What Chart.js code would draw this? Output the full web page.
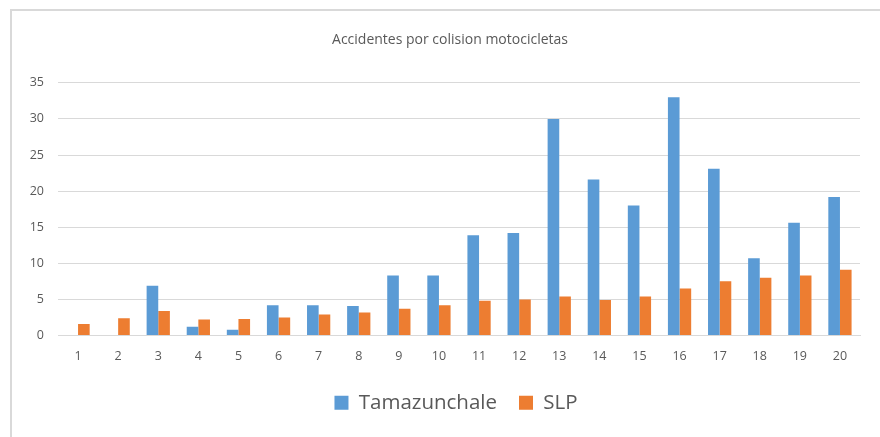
<!DOCTYPE html>
<html>
<head>
<meta charset="utf-8">
<script src="https://cdn.jsdelivr.net/npm/chart.js@4/dist/chart.umd.min.js"></script>
<style>
  html, body { margin: 0; padding: 0; background: #fff; }
  #wrap { position: relative; width: 880px; height: 437px; }
  #frame { position: absolute; left: 10px; top: 9px; width: 880px; height: 440px;
           border-left: 2px solid #d9d9d9; border-top: 2px solid #d9d9d9; box-sizing: border-box; }
  canvas { position: absolute; left: 0; top: 0; }
</style>
</head>
<body>
<div id="wrap">
  <div id="frame"></div>
  <canvas id="chart" width="880" height="437"></canvas>
</div>
<script>
const categories = ['1','2','3','4','5','6','7','8','9','10','11','12','13','14','15','16','17','18','19','20'];
const tamazunchale = [0, 0, 6.9, 1.2, 0.8, 4.2, 4.2, 4.1, 8.3, 8.3, 13.9, 14.2, 30.0, 21.6, 18.0, 33.0, 23.1, 10.7, 15.6, 19.2];
const slp = [1.6, 2.4, 3.4, 2.2, 2.3, 2.5, 2.9, 3.2, 3.7, 4.2, 4.8, 5.0, 5.4, 4.9, 5.4, 6.5, 7.5, 8.0, 8.3, 9.1];
const yTicks = [0, 5, 10, 15, 20, 25, 30, 35];

const textColor = '#595959';
const gridColor = '#d9d9d9';
const font = 'Open Sans';

// the original centres title and legend on the frame, not the canvas
const nudge = {
  id: 'nudge',
  afterLayout(chart) {
    chart.legend.left += 26; chart.legend.right += 26;
    chart.titleBlock.left += 20; chart.titleBlock.right += 20;
  }
};

new Chart(document.getElementById('chart'), {
  type: 'bar',
  data: {
    labels: categories,
    datasets: [
      { label: 'Tamazunchale', data: tamazunchale, backgroundColor: '#5b9bd5',
        categoryPercentage: 0.58, barPercentage: 1 },
      { label: 'SLP', data: slp, backgroundColor: '#ed7d31',
        categoryPercentage: 0.58, barPercentage: 1 }
    ]
  },
  plugins: [nudge],
  options: {
    responsive: false,
    animation: false,
    layout: { padding: { left: 0, right: 20, top: 0, bottom: 14 } },
    plugins: {
      title: {
        display: true,
        text: 'Accidentes por colision motocicletas',
        color: textColor,
        font: { family: font, size: 14, weight: 'normal' },
        padding: { top: 32, bottom: 34 }
      },
      legend: {
        position: 'bottom',
        labels: {
          color: textColor,
          font: { family: font, size: 20.5 },
          boxWidth: 14, boxHeight: 14,
          padding: 22
        }
      },
      tooltip: { enabled: false }
    },
    scales: {
      x: {
        grid: { display: false },
        border: { color: gridColor, width: 1 },
        ticks: { color: textColor, font: { family: font, size: 12.5 }, padding: 5 },
        afterFit: s => { s.height = 35; }
      },
      y: {
        min: 0, max: 35,
        afterBuildTicks: s => { s.ticks = yTicks.map(v => ({ value: v })); },
        grid: { color: gridColor, lineWidth: 1, drawTicks: false },
        border: { display: false },
        ticks: { color: textColor, font: { family: font, size: 12.5 }, padding: 14 },
        afterFit: s => { s.width = 58; }
      }
    }
  }
});
</script>
</body>
</html>
